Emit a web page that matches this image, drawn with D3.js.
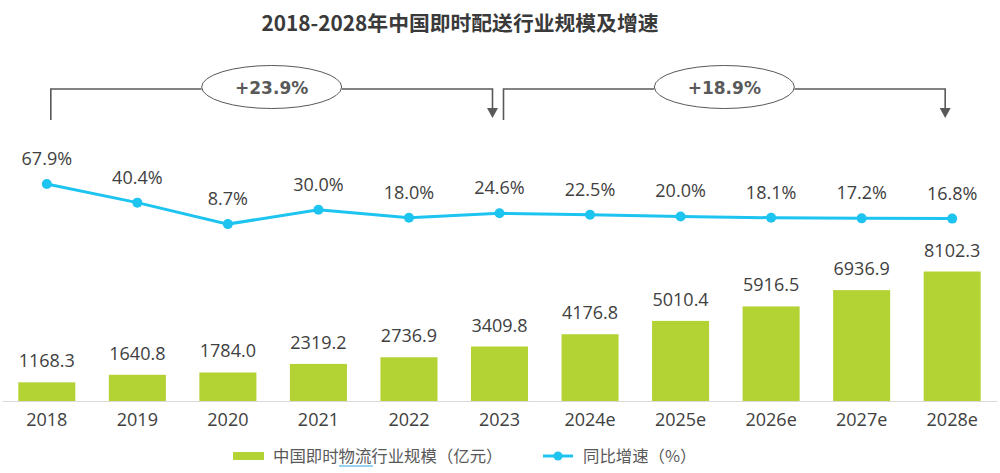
<!DOCTYPE html>
<html><head><meta charset="utf-8">
<script src="https://cdn.jsdelivr.net/npm/d3@7"></script>
<style>
html,body{margin:0;padding:0;background:#fff;}
svg text{font-family:"Open Sans","Noto Sans CJK SC",sans-serif;}
</style></head>
<body><svg id="c" width="1000" height="473"></svg>
<script>
const categories = ["2018","2019","2020","2021","2022","2023","2024e","2025e","2026e","2027e","2028e"];
const scaleValues = [1168.3,1640.8,1784.0,2319.2,2736.9,3409.8,4176.8,5010.4,5916.5,6936.9,8102.3];
const growthValues = [67.9,40.4,8.7,30.0,18.0,24.6,22.5,20.0,18.1,17.2,16.8];
const cagrLabels = ["+23.9%","+18.9%"];
const title = "2018-2028年中国即时配送行业规模及增速";
const legendLabels = ["中国即时物流行业规模（亿元）","同比增速（%）"];

const barColor = "#b3d234", lineColor = "#1ec4f0", textColor = "#404040", annColor = "#595959";
const svg = d3.select("#c");

const x = d3.scaleBand().domain(categories).range([2, 997]).paddingInner(0.37).paddingOuter(0.18);
const cx = d => x(d) + x.bandwidth()/2;
const yBar = d3.scaleLinear().domain([0, 8102.3]).range([401, 271.5]);
const yLine = d3.scaleLinear().domain([0, 67.9]).range([230, 184]);

// title
svg.append("text").attr("x", 460).attr("y", 31).attr("text-anchor","middle")
  .style("font-family","'Noto Sans CJK SC',sans-serif").style("font-weight","bold")
  .style("font-size","20.8px").attr("fill","#3a3a3a").text(title);

// bars
svg.selectAll("rect.bar").data(categories).join("rect").attr("class","bar")
  .attr("x", d => x(d)).attr("width", x.bandwidth())
  .attr("y", (d,i) => yBar(scaleValues[i])).attr("height", (d,i) => yBar(0) - yBar(scaleValues[i]))
  .attr("fill", barColor);

// axis
const xAxis = svg.append("g").attr("transform","translate(0,401)").call(d3.axisBottom(x).tickSize(0).tickPadding(12));
xAxis.select(".domain").attr("stroke","#d9d9d9").attr("stroke-width",1.2);
xAxis.selectAll("text").style("font-size","18px").attr("fill",textColor).style("font-family","'Open Sans',sans-serif");

// bar labels
svg.selectAll("text.bl").data(categories).join("text").attr("class","bl")
  .attr("x", d => cx(d)).attr("y", (d,i) => yBar(scaleValues[i]) - 15)
  .attr("text-anchor","middle").style("font-size","18px").attr("fill",textColor)
  .text((d,i) => scaleValues[i].toFixed(1));

// line
const line = d3.line().x((d,i) => cx(categories[i])).y(d => yLine(d));
svg.append("path").datum(growthValues).attr("d", line).attr("fill","none")
  .attr("stroke", lineColor).attr("stroke-width", 3);
svg.selectAll("circle.pt").data(growthValues).join("circle").attr("class","pt")
  .attr("cx", (d,i) => cx(categories[i])).attr("cy", d => yLine(d)).attr("r", 5).attr("fill", lineColor);
svg.selectAll("text.ll").data(growthValues).join("text").attr("class","ll")
  .attr("x", (d,i) => cx(categories[i])).attr("y", d => yLine(d) - 19)
  .attr("text-anchor","middle").style("font-size","18px").attr("fill",textColor)
  .text(d => d.toFixed(1) + "%");

// brackets
const brackets = [
  {from: categories[0], to: categories[5], label: cagrLabels[0]},
  {from: categories[5], to: categories[10], label: cagrLabels[1]}
];
const topY = 89, leftBottom = 120, arrowTip = 118;
brackets.forEach((b,k) => {
  const x0 = cx(b.from) + 4, x1 = cx(b.to) - 7;
  const ex = (x0 + x1)/2;
  const rx = 70, ry = 21.5;
  const g = svg.append("g");
  g.append("path").attr("d", `M${x0},${leftBottom} V${topY} H${ex - rx}`)
    .attr("fill","none").attr("stroke",annColor).attr("stroke-width",1.6);
  g.append("path").attr("d", `M${ex + rx},${topY} H${x1} V${arrowTip - 10}`)
    .attr("fill","none").attr("stroke",annColor).attr("stroke-width",1.6);
  g.append("path").attr("d", `M${x1-5.5},${arrowTip-10} L${x1+5.5},${arrowTip-10} L${x1},${arrowTip} Z`).attr("fill",annColor);
  g.append("ellipse").attr("cx", ex).attr("cy", topY - 2).attr("rx", rx).attr("ry", ry)
    .attr("fill","#fff").attr("stroke",annColor).attr("stroke-width",1);
  g.append("text").attr("x", ex).attr("y", topY + 4.5).attr("text-anchor","middle")
    .style("font-family","'DejaVu Sans',sans-serif").style("font-weight","bold").style("font-size","17px")
    .attr("fill",annColor).text(b.label);
});

// legend
const lg = svg.append("g");
lg.append("rect").attr("x",233).attr("y",452).attr("width",31).attr("height",8).attr("fill",barColor);
lg.append("text").attr("x",273).attr("y",462).style("font-family","'Noto Sans CJK SC',sans-serif")
  .style("font-size","16.4px").attr("fill","#595959").text(legendLabels[0]);
lg.append("line").attr("x1",339).attr("x2",373).attr("y1",466).attr("y2",466).attr("stroke","#2aa8d8").attr("stroke-width",1);
lg.append("line").attr("x1",543).attr("x2",573).attr("y1",456).attr("y2",456).attr("stroke",lineColor).attr("stroke-width",3);
lg.append("circle").attr("cx",558).attr("cy",456).attr("r",4.5).attr("fill",lineColor);
lg.append("text").attr("x",583).attr("y",462).style("font-family","'Noto Sans CJK SC',sans-serif")
  .style("font-size","16.4px").attr("fill","#595959").text(legendLabels[1]);
</script></body></html>
